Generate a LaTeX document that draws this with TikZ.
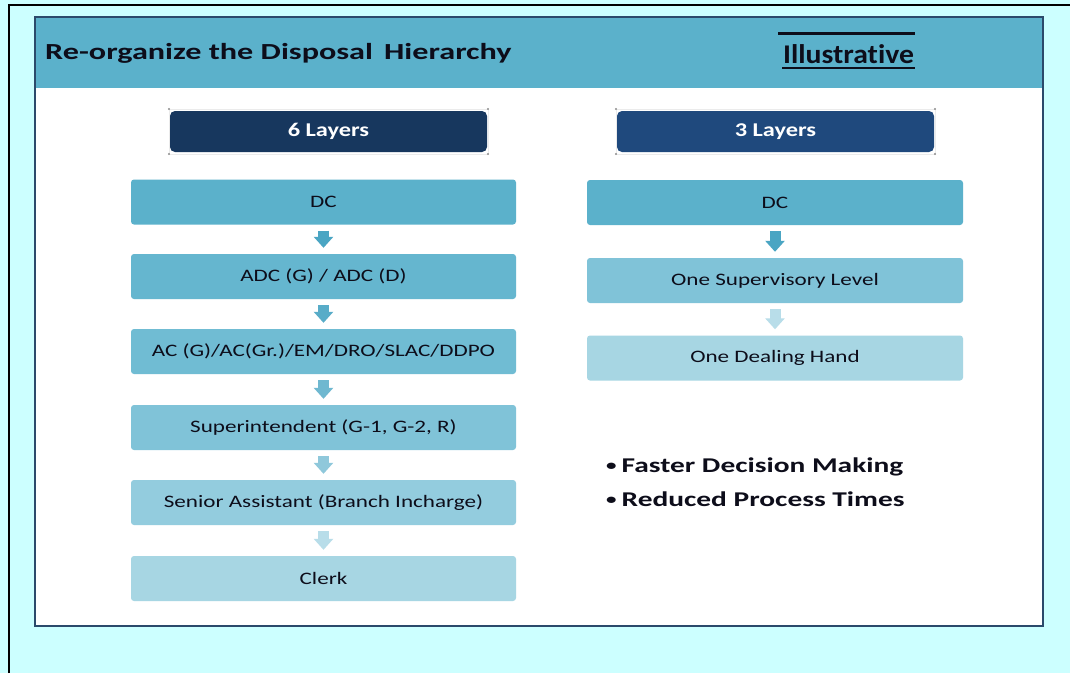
\documentclass[tikz,border=0pt]{standalone}
\usepackage{fontspec}
\setmainfont{Carlito}[Ligatures=NoCommon]
\newfontfamily\widefont[FakeStretch=1.4, Ligatures=NoCommon]{Carlito}
\newfontfamily\boxfont[FakeStretch=1.32, Ligatures=NoCommon]{Carlito}
\newfontfamily\headfont[FakeStretch=1.25, Ligatures=NoCommon]{Carlito}
\newfontfamily\tagfont[FakeStretch=1.1, Ligatures=NoCommon]{Carlito}
\usepackage{tikz}
\usetikzlibrary{arrows.meta}

\definecolor{slidebg}{HTML}{CCFFFF}
\definecolor{bandblue}{HTML}{5BB1CB}
\definecolor{frameblue}{HTML}{2B4A6B}
\definecolor{navyA}{HTML}{17375E}
\definecolor{navyB}{HTML}{1F497D}
\definecolor{lvlA}{HTML}{5BB1CB}
\definecolor{lvlB}{HTML}{65B6CF}
\definecolor{lvlC}{HTML}{70BCD3}
\definecolor{lvlD}{HTML}{80C3D8}
\definecolor{lvlE}{HTML}{93CCDE}
\definecolor{lvlF}{HTML}{A7D6E3}
\definecolor{arrA}{HTML}{4AA5C3}
\definecolor{arrB}{HTML}{58ACC8}
\definecolor{arrC}{HTML}{6FB8D0}
\definecolor{arrD}{HTML}{8FC8DB}
\definecolor{arrE}{HTML}{B8DDE9}
\definecolor{inktext}{HTML}{0D0D1A}

\tikzset{
	level/.style={rectangle, rounded corners=3pt, minimum height=45pt, inner sep=0pt,
		font=\boxfont\fontsize{17.5}{19}\selectfont, text=inktext},
	layerhead/.style={rectangle, rounded corners=5pt, minimum width=317pt, minimum height=41pt,
		inner sep=0pt, text=white, font=\headfont\bfseries\fontsize{19.5}{21}\selectfont},
	handles/.style={draw=black!8, line width=0.5pt},
	downarrow/.style={line width=11pt, -{Triangle[width=19pt,length=11pt]},
		shorten <=6pt, shorten >=6pt},
	bullet/.style={anchor=base west, inner sep=0pt, text=inktext,
		font=\widefont\bfseries\fontsize{21}{24}\selectfont}
}

\begin{document}
\begin{tikzpicture}[x=1pt, y=-1pt]
% draw slide background
	\fill[slidebg] (0,0) rectangle (1070,673);
	\useasboundingbox (0,0) rectangle (1070,673);
	\draw[black, line width=1.2pt] (9,673) -- (9,5) -- (1070,5);

% main panel and title band
	\fill[white] (35,17) rectangle (1043,626);
	\fill[bandblue] (35,17) rectangle (1043,88);
	\draw[frameblue, line width=1.2pt] (35,17) rectangle (1043,626);
	\node[anchor=base west, inner sep=0pt, font=\widefont\bfseries\fontsize{23}{26}\selectfont, text=inktext] (title)
		at (45,59) {Re-organize the Disposal\, Hierarchy};
	\node[anchor=base, inner sep=0pt, font=\tagfont\bfseries\fontsize{27}{30}\selectfont, text=inktext] (illus)
		at (848.5,63) {Illustrative};
	\draw[inktext, line width=2.5pt] (782,68) -- (915,68);
	\draw[inktext, line width=3pt] (778,33) -- (915,33);

% six layers column
	\draw[handles] (169,109) rectangle (488,154);
	\foreach \cx/\cy in {169/109, 488/109, 169/154, 488/154}
		\fill[black!45] (\cx,\cy) circle (1.2pt);
	\node[layerhead, fill=navyA] (six) at (328.5,131.5) {6 Layers};
	\node[level, minimum width=385pt, fill=lvlA] (dc) at (323.5,202) {DC};
	\node[level, minimum width=385pt, fill=lvlB] (adc) at (323.5,276.5) {ADC (G) / ADC (D)};
	\node[level, minimum width=385pt, fill=lvlC] (ac) at (323.5,351.5) {AC (G)/AC(Gr.)/EM/DRO/SLAC/DDPO};
	\node[level, minimum width=385pt, fill=lvlD] (supdt) at (323.5,427.5) {Superintendent (G-1, G-2, R)};
	\node[level, minimum width=385pt, fill=lvlE] (senior) at (323.5,502.5) {Senior Assistant (Branch Incharge)};
	\node[level, minimum width=385pt, fill=lvlF] (clerk) at (323.5,578.5) {Clerk};

	\draw[downarrow, arrA] (dc) -- (adc);
	\draw[downarrow, arrB] (adc) -- (ac);
	\draw[downarrow, arrC] (ac) -- (supdt);
	\draw[downarrow, arrD] (supdt) -- (senior);
	\draw[downarrow, arrE] (senior) -- (clerk);

% three layers column
	\draw[handles] (616,109) rectangle (935,154);
	\foreach \cx/\cy in {616/109, 935/109, 616/154, 935/154}
		\fill[black!45] (\cx,\cy) circle (1.2pt);
	\node[layerhead, fill=navyB] (three) at (775.5,131.5) {3 Layers};
	\node[level, minimum width=376pt, fill=lvlA] (dcr) at (775,202.5) {DC};
	\node[level, minimum width=376pt, fill=lvlD] (super) at (775,280.5) {One Supervisory Level};
	\node[level, minimum width=376pt, fill=lvlF] (dealer) at (775,358) {One Dealing Hand};

	\draw[downarrow, arrA] (dcr) -- (super);
	\draw[downarrow, arrE] (super) -- (dealer);

% benefits
	\node[bullet] (faster) at (606,472) {\raisebox{2pt}{\fontsize{15}{15}\selectfont\textbullet}\hspace{5pt}Faster Decision Making};
	\node[bullet] (reduced) at (606,506) {\raisebox{2pt}{\fontsize{15}{15}\selectfont\textbullet}\hspace{5pt}Reduced Process Times};

\end{tikzpicture}
\end{document}
